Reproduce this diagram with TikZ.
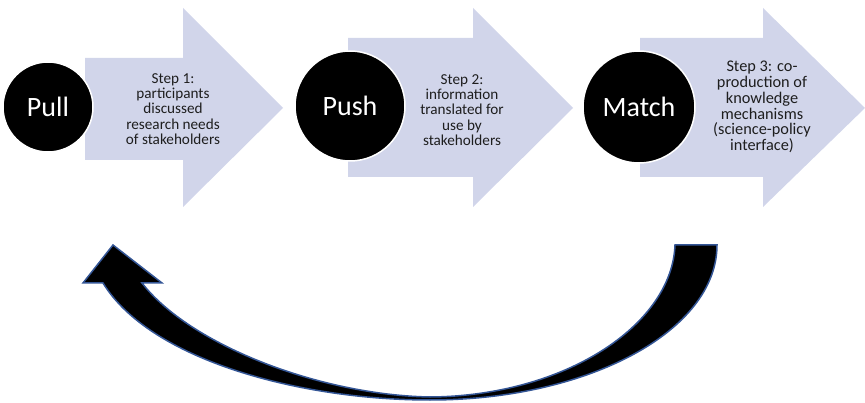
\documentclass[tikz,border=0pt]{standalone}
\usepackage{fontspec}
\setmainfont{Carlito}
\definecolor{band}{RGB}{209,213,234}
\definecolor{rim}{RGB}{52,86,150}
\definecolor{ink}{RGB}{30,30,30}
\begin{document}
\begin{tikzpicture}[x=1pt,y=-1pt,
  blockarrow/.style={fill=band,draw=none},
  hub/.style={circle,fill=black,draw=white,line width=1.5pt,text=white,
    font=\fontsize{28}{34}\selectfont,inner sep=0pt},
  steptext/.style={align=center,font=\fontsize{15.2}{15.2}\selectfont,
    text=ink,inner sep=0pt},
  bigsteptext/.style={steptext,font=\fontsize{16.3}{15.8}\selectfont},
  returnarrow/.style={fill=black,draw=rim,line width=1.5pt,line join=miter},
]
\useasboundingbox (0,0) rectangle (865,403);

% three block arrows
\path[blockarrow] (85,58) -- (183,58) -- (183,8) -- (283,108)
  -- (183,207) -- (183,160) -- (85,160) -- cycle;
\path[blockarrow] (348,38) -- (473,38) -- (473,8) -- (573,108)
  -- (473,207) -- (473,177) -- (348,177) -- cycle;
\path[blockarrow] (640,38) -- (763,38) -- (763,8) -- (865,108)
  -- (763,207) -- (763,177) -- (640,177) -- cycle;

% hubs
\node[hub,minimum size=90pt] (pull) at (48,107) {Pull};
\node[hub,minimum size=110pt] (push) at (350,106) {Push};
\node[hub,minimum size=112pt] (match) at (639,107) {Match};

% step labels
\node[steptext] (s1) at (173,109) {Step 1:\\participants\\discussed\\research needs\\of stakeholders};
\node[steptext] (s2) at (462,110) {Step 2:\\information\\translated for\\use by\\stakeholders};
\node[bigsteptext] (s3) at (762,107) {Step 3: co-\\production of\\knowledge\\mechanisms\\(science-policy\\interface)};

% curved return arrow
\path[returnarrow] (113,245) -- (162,283) -- (142,283)
  .. controls (190,345) and (320,395) .. (430,397)
  .. controls (565,396) and (672,325) .. (675,245)
  -- (717,245)
  .. controls (717,331) and (588,400) .. (430,400)
  .. controls (300,400) and (150,360) .. (103,283)
  -- (83,283) -- cycle;
\end{tikzpicture}
\end{document}
